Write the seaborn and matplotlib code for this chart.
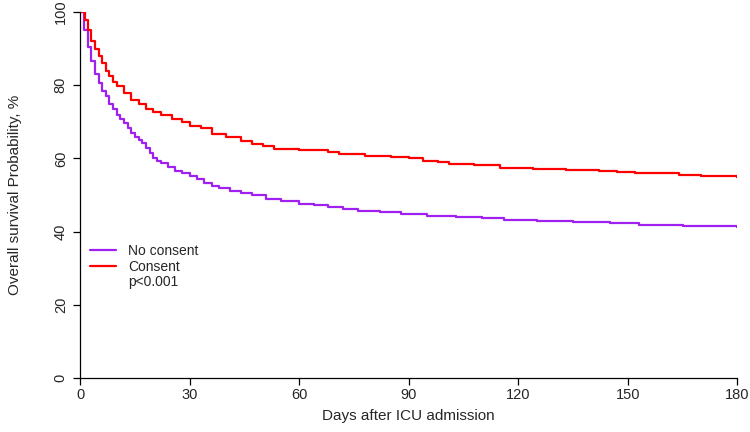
import numpy as np
import matplotlib
matplotlib.use("Agg")
import matplotlib.pyplot as plt
from matplotlib.lines import Line2D
import seaborn as sns
import pandas as pd

# ---- data (Kaplan-Meier step points) ----
consent_days = [0, 1.3, 2, 3, 4, 5, 6, 7, 8, 9, 10, 12, 14, 16, 18, 20, 22, 25, 28, 30,
                33, 36, 40, 44, 47, 50, 53, 60, 68, 71, 78, 85, 90, 94, 98, 101, 108,
                115, 124, 133, 142, 147, 152, 158, 164, 170, 175, 180]
consent_surv = [100, 97.8, 95, 92, 90, 88, 86, 84, 82.5, 81, 79.7, 77.8, 76, 74.8, 73.5,
                72.8, 71.8, 70.8, 70, 69, 68.3, 66.8, 65.8, 64.8, 64, 63.5, 62.7, 62.4,
                61.8, 61.1, 60.8, 60.5, 60, 59.4, 59, 58.5, 58.2, 57.5, 57, 56.8, 56.6,
                56.3, 56.1, 55.9, 55.5, 55.3, 55.1, 55.0]

noconsent_days = [0, 1, 2, 3, 4, 5, 6, 7, 8, 9, 10, 11, 12, 13, 14, 15, 16, 17, 18, 19,
                  20, 21, 22, 24, 26, 28, 30, 32, 34, 36, 38, 41, 44, 47, 51, 55, 60, 64,
                  68, 72, 76, 82, 88, 95, 103, 110, 116, 125, 135, 145, 153, 165, 180]
noconsent_surv = [100, 95, 90.5, 86.5, 83, 80.5, 78.5, 77, 75, 73.5, 72, 70.8, 69.6, 68.3,
                  67, 66, 65, 64.1, 62.8, 61.4, 60.2, 59.3, 58.7, 57.6, 56.6, 56, 55.2,
                  54.4, 53.4, 52.6, 51.8, 51, 50.5, 49.9, 48.8, 48.3, 47.6, 47.2, 46.6,
                  46.1, 45.6, 45.3, 44.8, 44.4, 44.1, 43.6, 43.3, 43, 42.7, 42.4, 41.8,
                  41.6, 41.3]

x_ticks = [0, 30, 60, 90, 120, 150, 180]
y_ticks = [0, 20, 40, 60, 80, 100]

sns.set_style("ticks")
plt.rcParams['font.family'] = ['Liberation Sans', 'DejaVu Sans']

fig = plt.figure(figsize=(7.5, 4.32), dpi=100)
ax = fig.add_axes([0.107, 0.125, 0.876, 0.847])

df_no = pd.DataFrame({'days': noconsent_days, 'surv': noconsent_surv})
df_yes = pd.DataFrame({'days': consent_days, 'surv': consent_surv})

purple = '#A020F0'
red = '#FF0000'
sns.lineplot(data=df_no, x='days', y='surv', ax=ax, color=purple, linewidth=1.6,
             drawstyle='steps-post', estimator=None)
sns.lineplot(data=df_yes, x='days', y='surv', ax=ax, color=red, linewidth=1.6,
             drawstyle='steps-post', estimator=None)

ax.set_xlim(0, 180)
ax.set_ylim(0, 100)
ax.set_xticks(x_ticks)
ax.set_yticks(y_ticks)
ax.tick_params(axis='both', length=5, width=0.9, color='black', labelsize=10.5)
ax.tick_params(axis='x', pad=2.5)
ax.tick_params(axis='y', pad=4)
for lab in ax.get_yticklabels():
    lab.set_rotation(90)
    lab.set_va('center')
sns.despine(ax=ax)
for sp in ['left', 'bottom']:
    ax.spines[sp].set_color('black')
    ax.spines[sp].set_linewidth(0.9)
ax.spines['left'].set_zorder(5)

ax.set_xlabel('Days after ICU admission', fontsize=11, labelpad=5)
ax.set_ylabel('Overall survival Probability, %', fontsize=11, labelpad=23)

handles = [Line2D([], [], color=purple, lw=1.6),
           Line2D([], [], color=red, lw=1.6),
           Line2D([], [], color='none', lw=1.6)]
ax.legend(handles, ['No consent', 'Consent', 'p<0.001'], loc='upper left',
          bbox_to_anchor=(0.0, 0.392), frameon=False, fontsize=10,
          handlelength=1.9, handletextpad=0.85, labelspacing=0.1, borderaxespad=0.3)

fig.savefig('out.png', dpi=100)
